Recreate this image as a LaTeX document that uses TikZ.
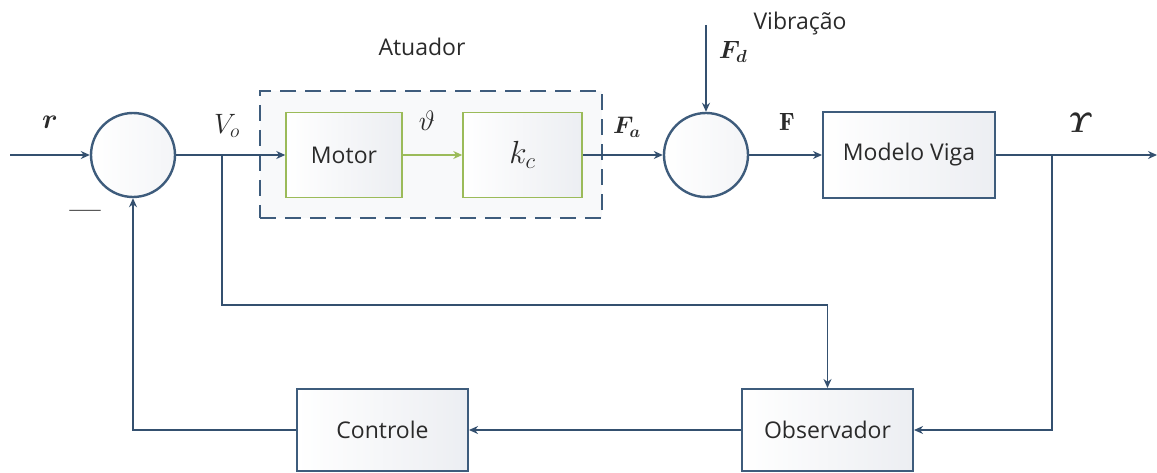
\RequirePackage{fix-cm}
\documentclass[tikz,border=0pt]{standalone}
\usepackage{fontspec}
\setsansfont{Open Sans}
\usepackage{amsmath}
\usepackage{bm}
\usetikzlibrary{positioning,arrows.meta}
\definecolor{INK}{HTML}{2A2A2A}
\definecolor{WIRE}{HTML}{34506F}
\definecolor{EDGE}{HTML}{3E5C7C}
\definecolor{ACT}{HTML}{9BBB59}
\definecolor{SHADE}{HTML}{ECEEF2}

\begin{document}
\begin{tikzpicture}[
    x=1pt, y=-1pt,
    font=\sffamily\fontsize{23}{26}\selectfont, text=INK,
    blk/.style={draw=EDGE, line width=2pt, left color=white, right color=SHADE,
      minimum width=171pt, minimum height=84pt, inner sep=0pt},
    actblk/.style={blk, draw=ACT, line width=1.5pt, minimum height=85pt},
    sumnd/.style={circle, draw=EDGE, line width=2.4pt, left color=white, right color=SHADE!60,
      minimum size=84pt, inner sep=0pt},
    wire/.style={draw=WIRE, line width=1.4pt},
    arr/.style={wire, -{Stealth[length=9pt,width=8pt]}},
    lbl/.style={font=\fontsize{28}{30}\selectfont},
  ]
  \useasboundingbox (0,0) rectangle (1157,473);

  % actuator group
  \node[draw=EDGE, line width=2.2pt, dash pattern=on 16pt off 9pt, fill=SHADE!35,
    minimum width=342pt, minimum height=127pt] (atu) at (431,154.5) {};
  \node at (422,47) {Atuador};

  % blocks
  \node[sumnd] (s1) at (133,155) {};
  \node[sumnd] (s2) at (706,155) {};
  \node[actblk, minimum width=116pt] (mot) at (344,155) {Motor};
  \node[actblk, minimum width=119pt, font=\fontsize{32}{34}\selectfont] (kc) at (522.5,155) {$k_c$};
  \node[blk, minimum width=172pt, minimum height=86pt] (viga) at (909,155) {Modelo Viga};
  \node[blk, minimum height=82pt] (obs) at (827.5,430) {Observador};
  \node[blk, minimum height=82pt] (ctl) at (382.5,430) {Controle};

  % free ends and branch points
  \coordinate (in) at (10,155);
  \coordinate (out) at (1157,155);
  \coordinate (fd) at (706,25);
  \coordinate (vo) at (222,155);
  \coordinate (vod) at (222,305);
  \coordinate (yb) at (1052,155);

  % forward path
  \draw[arr] (in) -- (s1.west);
  \draw[arr] (s1.east) -- (mot.west);
  \draw[draw=ACT, line width=1.4pt, -{Stealth[length=9pt,width=8pt]}] (mot.east) -- (kc.west);
  \draw[arr] (kc.east) -- (s2.west);
  \draw[arr] (fd) -- (s2.north);
  \draw[arr] (s2.east) -- (viga.west);
  \draw[arr] (viga.east) -- (out);

  % feedback
  \draw[arr] (yb) |- (obs.east);
  \draw[arr] (vo) -- (vod) -| (obs.north);
  \draw[arr] (obs.west) -- (ctl.east);
  \draw[arr] (ctl.west) -| (s1.south);

  % signal labels
  \node[lbl] (lr) at (50,122) {$\bm{r}$};
  \node[lbl, font=\bfseries\fontsize{28}{30}\selectfont] (lmin) at (85,214) {—};
  \node[lbl] (lvo) at (227,126) {$V_o$};
  \node[lbl] (lth) at (427,121) {$\vartheta$};
  \node[lbl, font=\fontsize{24}{26}\selectfont] (lfa) at (627,127) {$\bm{F_a}$};
  \node[lbl, font=\fontsize{25}{26}\selectfont] (lfd) at (733,52) {$\bm{F_d}$};
  \node[lbl, font=\fontsize{25}{26}\selectfont] (lf) at (787,122) {$\mathbf{F}$};
  \node (vib) at (800,24) {Vibração};
  \node[lbl] (ly) at (1081,123) {$\bm{\varUpsilon}$};

\end{tikzpicture}
\end{document}
